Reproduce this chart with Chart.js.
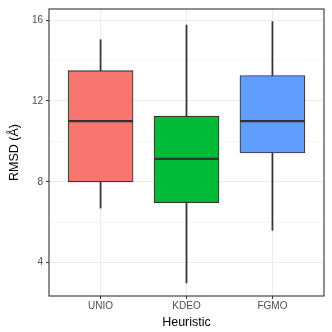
<!DOCTYPE html>
<html>
<head>
<meta charset="utf-8">
<script src="https://cdn.jsdelivr.net/npm/chart.js@4.4.0/dist/chart.umd.min.js"></script>
<style>
  html, body { margin: 0; padding: 0; background: #fff; }
  #wrap { width: 332px; height: 332px; }
</style>
</head>
<body>
<div id="wrap"><canvas id="boxChart"></canvas></div>
<script>
const heuristics = ['UNIO', 'KDEO', 'FGMO'];
const lowerWhisker = [6.7, 3.0, 5.6];
const lowerQuartile = [8.0, 6.97, 9.43];
const medians = [11.0, 9.13, 11.0];
const upperQuartile = [13.5, 11.25, 13.26];
const upperWhisker = [15.03, 15.75, 15.93];
const fillColours = ['#F8766D', '#00BA38', '#619CFF'];
const yTicks = [4, 6, 8, 10, 12, 14, 16];

Chart.defaults.font.family = '"Liberation Sans", Arial, sans-serif';

const boxExtras = {
    id: 'boxExtras',
    afterDatasetsDraw(chart) {
        const ctx = chart.ctx;
        const y = chart.scales.y;
        const meta = chart.getDatasetMeta(1);
        ctx.save();
        ctx.strokeStyle = '#333333';
        ctx.lineWidth = 2.2;
        meta.data.forEach((el, i) => {
            const py = y.getPixelForValue(medians[i]);
            ctx.beginPath();
            ctx.moveTo(el.x - el.width / 2, py);
            ctx.lineTo(el.x + el.width / 2, py);
            ctx.stroke();
        });
        // panel border
        const a = chart.chartArea;
        ctx.lineWidth = 1.1;
        ctx.strokeRect(a.left, a.top, a.right - a.left, a.bottom - a.top);
        ctx.restore();
    }
};

new Chart(document.getElementById('boxChart'), {
    type: 'bar',
    data: {
        datasets: [{
            // whiskers
            data: heuristics.map((h, i) => ({ x: i + 1, y: [lowerWhisker[i], upperWhisker[i]] })),
            backgroundColor: '#333333',
            borderWidth: 0,
            barThickness: 1.1,
            grouped: false,
            order: 2
        }, {
            // boxes
            data: heuristics.map((h, i) => ({ x: i + 1, y: [lowerQuartile[i], upperQuartile[i]] })),
            backgroundColor: fillColours,
            borderColor: '#333333',
            borderWidth: 1.1,
            borderSkipped: false,
            barThickness: 65,
            grouped: false,
            order: 1
        }]
    },
    options: {
        responsive: true,
        maintainAspectRatio: false,
        animation: false,
        layout: { padding: { left: 0, top: 7, right: 8, bottom: 0 } },
        plugins: {
            legend: { display: false },
            tooltip: { enabled: false }
        },
        scales: {
            x: {
                type: 'linear',
                min: 0.4,
                max: 3.6,
                offset: false,
                afterBuildTicks: scale => { scale.ticks = heuristics.map((h, i) => ({ value: i + 1 })); },
                afterFit: scale => { scale.height = 36; },
                ticks: {
                    callback: v => heuristics[Math.round(v) - 1],
                    color: '#4d4d4d',
                    font: { size: 10 },
                    padding: 1,
                    maxRotation: 0,
                    autoSkip: false
                },
                grid: {
                    offset: false,
                    color: '#ebebeb',
                    lineWidth: 1,
                    tickColor: '#333333',
                    tickLength: 3,
                    drawTicks: true
                },
                border: { display: false },
                title: {
                    display: true,
                    text: 'Heuristic',
                    color: '#000',
                    font: { size: 12.5 },
                    padding: { top: 0, bottom: 2 }
                }
            },
            y: {
                min: 2.35,
                max: 16.55,
                afterBuildTicks: scale => { scale.ticks = yTicks.map(v => ({ value: v })); },
                afterFit: scale => { scale.width = 49; },
                ticks: {
                    callback: v => (v % 4 === 0 ? String(v) : ''),
                    color: '#4d4d4d',
                    font: { size: 10 },
                    padding: 3
                },
                grid: {
                    color: '#ebebeb',
                    lineWidth: c => (c.tick && c.tick.value % 4 === 0 ? 1 : 0.5),
                    tickColor: c => (c.tick && c.tick.value % 4 === 0 ? '#333333' : 'rgba(0,0,0,0)'),
                    tickLength: 3
                },
                border: { display: false },
                title: {
                    display: true,
                    text: 'RMSD (Å)',
                    color: '#000',
                    font: { size: 12.5 },
                    padding: { top: 7, bottom: 0 }
                }
            }
        }
    },
    plugins: [boxExtras]
});
</script>
</body>
</html>
